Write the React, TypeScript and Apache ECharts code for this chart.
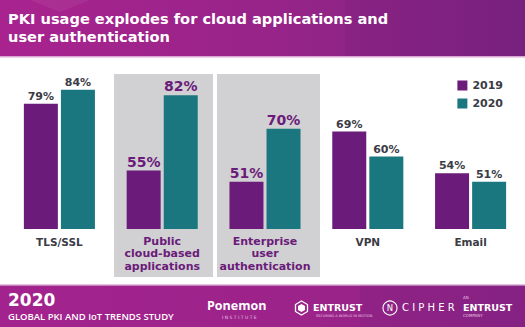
import React, { useEffect, useRef } from "react";
import * as echarts from "echarts";

const categories = [
  "TLS/SSL",
  "Public\ncloud-based\napplications",
  "Enterprise\nuser\nauthentication",
  "VPN",
  "Email",
];
const highlighted = [false, true, true, false, false];
const seriesNames = ["2019", "2020"];
const values2019 = [79, 55, 51, 69, 54];
const values2020 = [84, 82, 70, 60, 51];
const titleLines = ["PKI usage explodes for cloud applications and", "user authentication"];
const footerYear = "2020";
const footerStudy = "GLOBAL PKI AND IoT TRENDS STUDY";

const PURPLE = "#6b1b79";
const TEAL = "#1b777f";
const GRAY_TEXT = "#3b3b45";
const BOLD_FONT = "DejaVu Sans";

export default function App() {
  const ref = useRef<HTMLDivElement>(null);

  useEffect(() => {
    if (!ref.current) return;
    const chart = echarts.init(ref.current, null, { renderer: "svg" });

    const highlightLabel = {
      color: PURPLE,
      fontSize: 14,
    };

    const makeData = (vals: number[]) =>
      vals.map((v, i) => (highlighted[i] ? { value: v, label: highlightLabel } : v));

    const headerGrad = new echarts.graphic.LinearGradient(0, 0, 1, 0, [
      { offset: 0, color: "#a9238f" },
      { offset: 0.55, color: "#962488" },
      { offset: 1, color: "#7c2382" },
    ]);
    const footerGrad = new echarts.graphic.LinearGradient(0, 0, 1, 0, [
      { offset: 0, color: "#a3238e" },
      { offset: 0.6, color: "#9b2389" },
      { offset: 1, color: "#8a2386" },
    ]);

    const white = "#ffffff";
    const titleTexts = titleLines.map((line, i) => ({
      type: "text",
      x: 8,
      y: 10.5 + i * 17.5,
      style: {
        text: line,
        fill: white,
        fontFamily: BOLD_FONT,
        fontWeight: "bold",
        fontSize: 14.6,
        lineHeight: 16.5,
      },
      z: 1,
    }));

    const graphic: any[] = [
      // header
      { type: "rect", shape: { x: 0, y: 0, width: 525, height: 56 }, style: { fill: headerGrad }, z: 0 },
      { type: "polygon", shape: { points: [[345, 0], [525, 0], [525, 56], [345, 56]] }, style: { fill: "#5a1a6a", opacity: 0.12 }, z: 0 },
      { type: "polygon", shape: { points: [[30, 0], [60, 12], [90, 0]] }, style: { fill: "#ffffff", opacity: 0.06 }, z: 0 },
      { type: "rect", shape: { x: 0, y: 56, width: 525, height: 1.5 }, style: { fill: "#d8a8d3" }, z: 0 },
      ...titleTexts,
      // highlight panels
      { type: "rect", shape: { x: 114, y: 74, width: 99, height: 203 }, style: { fill: "#d1d1d3" }, z: 0 },
      { type: "rect", shape: { x: 217, y: 74, width: 103, height: 203 }, style: { fill: "#d1d1d3" }, z: 0 },
      // footer
      { type: "rect", shape: { x: 0, y: 284, width: 525, height: 1.5 }, style: { fill: "#e2c2de" }, z: 0 },
      { type: "rect", shape: { x: 0, y: 285.5, width: 525, height: 42 }, style: { fill: footerGrad }, z: 0 },
      { type: "polygon", shape: { points: [[360, 285.5], [525, 285.5], [525, 327], [360, 327]] }, style: { fill: "#5a1a6a", opacity: 0.1 }, z: 0 },
      {
        type: "text",
        x: 8,
        y: 291,
        style: { text: footerYear, fill: white, fontFamily: BOLD_FONT, fontWeight: "bold", fontSize: 17 },
        z: 1,
      },
      {
        type: "text",
        x: 8,
        y: 311,
        style: { text: footerStudy, fill: white, fontFamily: "Open Sans", fontWeight: 600, fontSize: 9.5 },
        z: 1,
      },
      // Ponemon
      {
        type: "text",
        x: 207,
        y: 299,
        style: { text: "Ponemon", fill: white, fontFamily: "Open Sans", fontWeight: "bold", fontSize: 12.5 },
        z: 1,
      },
      {
        type: "text",
        x: 222,
        y: 314.5,
        style: { text: "I N S T I T U T E", fill: "#e9c3e3", fontFamily: "DejaVu Sans", fontSize: 4.5 },
        z: 1,
      },
      // Entrust
      {
        type: "polygon",
        shape: { points: [[301.5, 301], [307.5, 304.5], [307.5, 311.5], [301.5, 315], [295.5, 311.5], [295.5, 304.5]] },
        style: { fill: "none", stroke: white, lineWidth: 1.3 },
        z: 1,
      },
      {
        type: "polygon",
        shape: { points: [[301.5, 304], [305, 306], [305, 310], [301.5, 312], [298, 310], [298, 306]] },
        style: { fill: white },
        z: 1,
      },
      {
        type: "text",
        x: 313,
        y: 302,
        style: { text: "ENTRUST", fill: white, fontFamily: BOLD_FONT, fontWeight: "bold", fontSize: 9.5 },
        z: 1,
      },
      {
        type: "text",
        x: 316,
        y: 314,
        style: { text: "SECURING A WORLD IN MOTION", fill: "#e9c3e3", fontFamily: "DejaVu Sans", fontSize: 3.5 },
        z: 1,
      },
      // nCipher
      { type: "circle", shape: { cx: 390, cy: 308, r: 7 }, style: { fill: "none", stroke: white, lineWidth: 1.1 }, z: 1 },
      {
        type: "text",
        x: 390,
        y: 308,
        style: { text: "N", fill: white, fontFamily: "DejaVu Sans", fontSize: 8.5, align: "center", verticalAlign: "middle" },
        z: 1,
      },
      {
        type: "text",
        x: 402,
        y: 302,
        style: { text: "C I P H E R", fill: white, fontFamily: "DejaVu Sans", fontSize: 10 },
        z: 1,
      },
      {
        type: "text",
        x: 463,
        y: 295.5,
        style: { text: "AN", fill: "#e9c3e3", fontFamily: "DejaVu Sans", fontSize: 4 },
        z: 1,
      },
      {
        type: "text",
        x: 463,
        y: 302,
        style: { text: "ENTRUST", fill: white, fontFamily: BOLD_FONT, fontWeight: "bold", fontSize: 9.5 },
        z: 1,
      },
      {
        type: "text",
        x: 463,
        y: 313,
        style: { text: "COMPANY", fill: "#e9c3e3", fontFamily: "DejaVu Sans", fontSize: 4 },
        z: 1,
      },
    ];

    chart.setOption({
      animation: false,
      backgroundColor: "#ffffff",
      textStyle: { fontFamily: BOLD_FONT },
      color: [PURPLE, TEAL],
      graphic,
      legend: {
        data: seriesNames,
        orient: "vertical",
        right: 17,
        top: 75,
        icon: "rect",
        itemWidth: 10,
        itemHeight: 10,
        itemGap: 7,
        textStyle: { fontFamily: BOLD_FONT, fontWeight: "bold", fontSize: 11, color: GRAY_TEXT },
      },
      grid: { left: 8, width: 514, top: 73, bottom: 98 },
      xAxis: {
        type: "category",
        data: categories,
        axisLine: { show: false },
        axisTick: { show: false },
        axisLabel: {
          interval: 0,
          margin: 6,
          formatter: (value: string, index: number) =>
            highlighted[index]
              ? value
                  .split("\n")
                  .map((l) => `{h|${l}}`)
                  .join("\n")
              : `{n|${value}}`,
          rich: {
            h: {
              color: PURPLE,
              fontFamily: BOLD_FONT,
              fontWeight: "bold",
              fontSize: 11,
              lineHeight: 12.5,
              align: "center",
            },
            n: {
              color: GRAY_TEXT,
              fontFamily: BOLD_FONT,
              fontWeight: "bold",
              fontSize: 10.5,
              lineHeight: 13,
              align: "center",
            },
          },
        },
      },
      yAxis: {
        type: "value",
        min: 34,
        max: 90,
        show: false,
        splitLine: { show: false },
      },
      series: [values2019, values2020].map((vals, si) => ({
        name: seriesNames[si],
        type: "bar",
        data: makeData(vals),
        barWidth: 34,
        barGap: "9%",
        z: 2,
        label: {
          show: true,
          position: "top",
          distance: 2,
          formatter: "{c}%",
          fontFamily: BOLD_FONT,
          fontWeight: "bold",
          fontSize: 11,
          color: GRAY_TEXT,
        },
      })),
    });

    return () => chart.dispose();
  }, []);

  return (
    <div
      ref={ref}
      style={{ position: "absolute", left: 0, top: 0, width: 525, height: 327 }}
    />
  );
}
